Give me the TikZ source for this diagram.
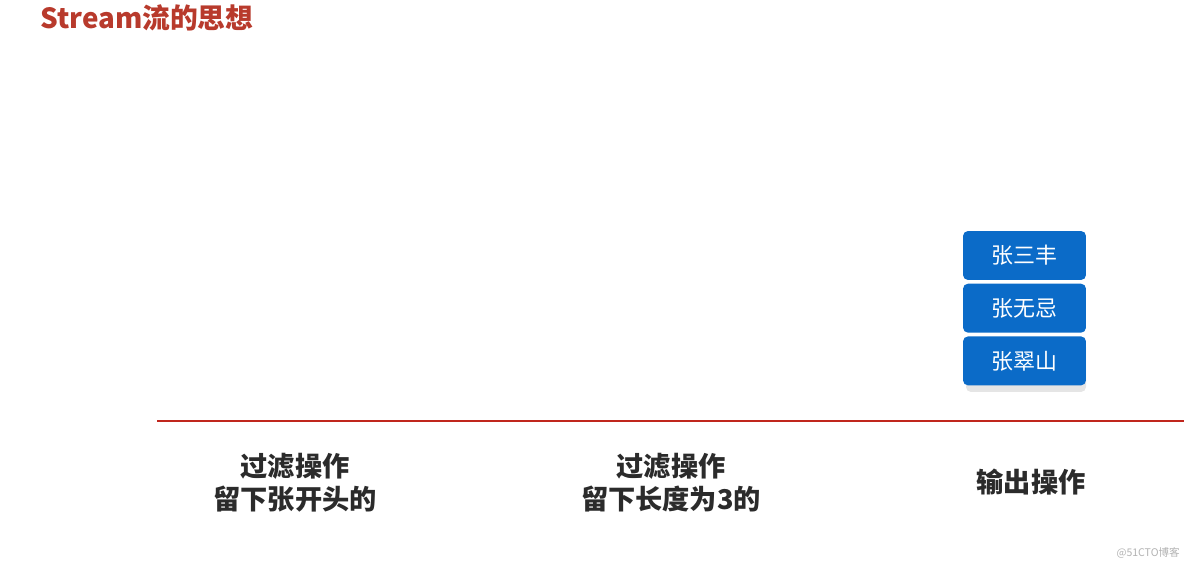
\documentclass[tikz,border=0pt]{standalone}
\usepackage{fontspec}
\usepackage{xcolor}
\usepackage{tikz}
\newfontfamily\cjk{Noto Sans CJK SC}
\definecolor{titelrot}{HTML}{B83A2C}
\definecolor{linienrot}{HTML}{C0261D}
\definecolor{kastenblau}{HTML}{0B6BC8}
\definecolor{schrift}{HTML}{2B2B2B}
\usetikzlibrary{positioning}
\tikzset{
	namebox/.style={fill=kastenblau, rounded corners=0.1cm, minimum width=2.46cm, minimum height=0.98cm, inner sep=0pt, text=white, font=\cjk\fontsize{12.5}{14}\selectfont},
	schritt/.style={align=center, text=schrift, font=\cjk\bfseries\fontsize{15.5}{18.7}\selectfont}
}
\begin{document}
\begin{tikzpicture}[x=0.02cm, y=-0.02cm]
		%Rahmen
		\useasboundingbox (0,0) rectangle (1184,564);

		%Titel
		\node [anchor=west, text=titelrot, font=\cjk\bfseries\fontsize{15.8}{18}\selectfont, inner sep=0pt] (titel) at (40,18) {Stream流的思想};

		%Schatten
		\fill [gray!20, rounded corners=0.1cm] (966,342) rectangle (1086,392);

		%Namen
		\node [namebox] (n1) at (1024.5,255.5) {张三丰};
		\node [namebox, below=0.06cm of n1] (n2) {张无忌};
		\node [namebox, below=0.06cm of n2] (n3) {张翠山};

		%Linie
		\coordinate (l1) at (157,421);
		\coordinate (l2) at (1184,421);
		\draw [linienrot, line width=0.06cm] (l1) -- (l2);

		%Schritte
		\node [schritt] (s1) at (295,483) {过滤操作\\留下张开头的};
		\node [schritt] (s2) at (671,483) {过滤操作\\留下长度为3的};
		\node [schritt] (s3) at (1031,482) {输出操作};

		%Wasserzeichen
		\node [anchor=east, text=gray!60, font=\cjk\fontsize{6}{7}\selectfont, inner sep=0pt] (wz) at (1180,553) {@51CTO博客};
	\end{tikzpicture}
\end{document}
